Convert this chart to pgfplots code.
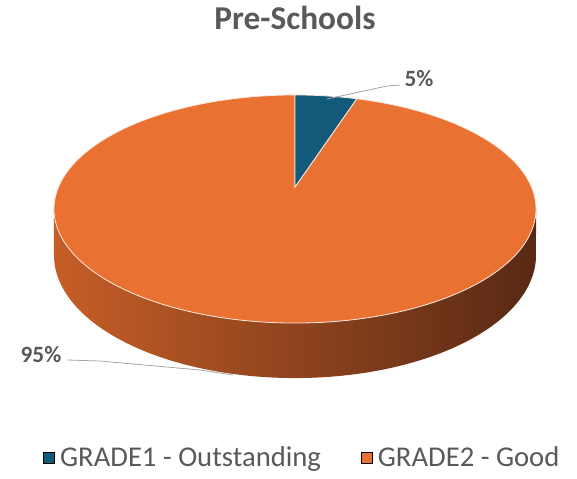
\documentclass[border=0pt]{standalone}
\usepackage{fontspec}
\setmainfont{Carlito}
\usepackage{pgfplots}
\usepackage{pgfplotstable}
\pgfplotsset{compat=1.18}
\definecolor{blueC}{HTML}{12597A}
\definecolor{orangeC}{HTML}{E97132}
\definecolor{sideL}{HTML}{C65E27}
\definecolor{sideM}{HTML}{8A4019}
\definecolor{sideR}{HTML}{582914}
\definecolor{txtC}{HTML}{595959}
\definecolor{leadC}{HTML}{A6A6A6}
\pgfplotstableread{
grade value
GRADE1 5
GRADE2 95
}\piedata
\pgfplotstablegetelem{0}{value}\of\piedata \let\valA\pgfplotsretval
\pgfplotstablegetelem{1}{value}\of\piedata \let\valB\pgfplotsretval
\pgfmathsetmacro{\fracA}{\valA/(\valA+\valB)}
\pgfmathsetmacro{\fracB}{\valB/(\valA+\valB)}
\pgfmathsetmacro{\angA}{90-360*\fracA}
\pgfmathsetmacro{\angB}{90+360*\fracB}
\begin{document}
\begin{tikzpicture}
\begin{axis}[
  width=432.75pt, height=358.5pt, scale only axis,
  xmin=0, xmax=577, ymin=0, ymax=478,
  hide axis, clip=false,
  declare function={
    th(\s)=ifthenelse(\s<=1, 191.1+157.8*\s, 348.9-157.8*(\s-1));
    px(\t)=295+236.5*cos(\t)/(1+0.193*sin(\t));
    py(\t)=291+109.8*sin(\t)/(1+0.193*sin(\t));
    dd(\t)=44.4/(1+0.193*sin(\t));
  },
  legend columns=2,
  legend cell align=left,
  legend style={at={(axis cs:304,20)}, anchor=center, draw=none, fill=none,
    inner sep=0pt, outer sep=0pt,
    font=\fontsize{21.5}{24}\selectfont\color{txtC},
    nodes={inner xsep=4pt},
    /tikz/every even column/.append style={column sep=26pt}},
  legend image code/.code={\fill[#1] (0pt,-4.1pt) rectangle (8.25pt,4.1pt);},
]
% side of the cake
\addplot[draw=none, left color=sideL, middle color=sideM, right color=sideR,
  domain=0:2, samples=241, variable=\s, forget plot]
  ({px(th(\s))},{py(th(\s))-ifthenelse(\s<=1,0,dd(th(\s)))});
% top face wedges
\addplot[fill=orangeC, draw=white!85!orangeC, line width=0.6pt,
  domain=90:\angB, samples=240, variable=\t, forget plot]
  ({px(\t)},{py(\t)}) -- (axis cs:295,291) -- cycle;
\addplot[fill=blueC, draw=white!85!orangeC, line width=0.6pt,
  domain=\angA:90, samples=30, variable=\t, forget plot]
  ({px(\t)},{py(\t)}) -- (axis cs:295,291) -- cycle;
\addlegendimage{fill=blueC}
\addlegendentry{GRADE1 - Outstanding}
\addlegendimage{fill=orangeC}
\addlegendentry{GRADE2 - Good}
% leader lines and labels
\draw[leadC, line width=0.6pt] (axis cs:400,393) -- (axis cs:387,392) -- (axis cs:327,379);
\draw[leadC, line width=0.6pt] (axis cs:67,118) -- (axis cs:100,117) -- (axis cs:200,108) -- (axis cs:233,103);
\node[font=\fontsize{17.5}{20}\selectfont\bfseries, text=txtC, anchor=base] at (axis cs:419,391) {5\%};
\node[font=\fontsize{17.5}{20}\selectfont\bfseries, text=txtC, anchor=base] at (axis cs:41,116) {95\%};
\node[font=\fontsize{25}{28}\selectfont\bfseries, text=txtC, anchor=base] at (axis cs:295,448) {Pre-Schools};
\end{axis}
\path (current axis.south west) rectangle (current axis.north east);
\end{tikzpicture}
\end{document}
